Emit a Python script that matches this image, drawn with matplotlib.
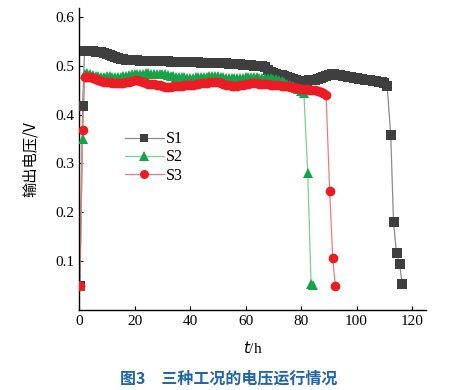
import numpy as np
import matplotlib

matplotlib.use("Agg")
from matplotlib import pyplot as plt

# ---- data ----
s1_head_t = [0.3, 1.3]
s1_head_v = [0.050, 0.418]
s1_dense_v = [
    0.530, 0.530, 0.529, 0.529, 0.528, 0.528, 0.527, 0.526, 0.524,
    0.522, 0.520, 0.518, 0.516, 0.514, 0.513, 0.512, 0.512, 0.511, 0.511,
    0.511, 0.510, 0.510, 0.510, 0.510, 0.510, 0.509, 0.509, 0.509, 0.509,
    0.509, 0.509, 0.508, 0.508, 0.508, 0.508, 0.508, 0.508, 0.507, 0.507,
    0.507, 0.507, 0.507, 0.506, 0.506, 0.506, 0.506, 0.506, 0.505, 0.505,
    0.505, 0.505, 0.505, 0.504, 0.504, 0.504, 0.503, 0.503, 0.502, 0.502,
    0.501, 0.501, 0.500, 0.500, 0.500, 0.499, 0.497, 0.492, 0.487, 0.485,
    0.483, 0.481, 0.480, 0.478, 0.476, 0.474, 0.472, 0.470, 0.469, 0.469,
    0.469, 0.469, 0.470, 0.470, 0.471, 0.472, 0.474, 0.477, 0.479, 0.481,
    0.482, 0.482, 0.481, 0.480, 0.479, 0.478, 0.477, 0.476, 0.475, 0.474,
    0.473, 0.472, 0.471, 0.471, 0.470, 0.469, 0.468, 0.467, 0.466, 0.464, 0.459,
]
s1_tail_t = [112.3, 113.3, 114.4, 115.5, 116.4]
s1_tail_v = [0.358, 0.180, 0.116, 0.094, 0.053]

s2_head_t = [0.3, 1.3]
s2_head_v = [0.050, 0.349]
s2_dense_v = [
    0.483, 0.484, 0.483, 0.481, 0.479, 0.478, 0.477, 0.477, 0.478,
    0.478, 0.477, 0.476, 0.477, 0.477, 0.478, 0.479, 0.481, 0.482, 0.483,
    0.483, 0.483, 0.483, 0.484, 0.484, 0.483, 0.483, 0.483, 0.483, 0.482,
    0.482, 0.481, 0.479, 0.478, 0.477, 0.477, 0.476, 0.476, 0.475, 0.475,
    0.475, 0.476, 0.476, 0.477, 0.477, 0.477, 0.478, 0.479, 0.479, 0.478,
    0.477, 0.476, 0.475, 0.475, 0.475, 0.474, 0.474, 0.474, 0.475, 0.476,
    0.476, 0.476, 0.476, 0.476, 0.475, 0.475, 0.475, 0.474, 0.474, 0.473,
    0.472, 0.470, 0.468, 0.466, 0.463, 0.461, 0.458, 0.455, 0.452, 0.449, 0.444,
]
s2_tail_t = [82.4, 83.6, 84.3]
s2_tail_v = [0.280, 0.054, 0.052]

s3_head_t = [0.3, 1.3]
s3_head_v = [0.050, 0.369]
s3_dense_v = [
    0.477, 0.477, 0.476, 0.474, 0.472, 0.470, 0.468, 0.467, 0.466,
    0.466, 0.465, 0.465, 0.464, 0.464, 0.465, 0.466, 0.467, 0.469, 0.471,
    0.470, 0.468, 0.466, 0.464, 0.463, 0.463, 0.462, 0.461, 0.460, 0.458,
    0.457, 0.457, 0.457, 0.458, 0.458, 0.459, 0.459, 0.460, 0.460, 0.461,
    0.461, 0.462, 0.463, 0.464, 0.465, 0.465, 0.466, 0.466, 0.466, 0.466,
    0.465, 0.463, 0.461, 0.460, 0.459, 0.459, 0.459, 0.460, 0.461, 0.462,
    0.463, 0.464, 0.464, 0.464, 0.463, 0.463, 0.462, 0.462, 0.461, 0.461,
    0.460, 0.460, 0.459, 0.459, 0.458, 0.457, 0.456, 0.455, 0.454, 0.453,
    0.452, 0.452, 0.451, 0.451, 0.450, 0.449, 0.447, 0.444, 0.440,
]
s3_tail_t = [90.3, 91.4, 92.3]
s3_tail_v = [0.244, 0.107, 0.050]

x_ticks = [0, 20, 40, 60, 80, 100, 120]
y_ticks = [0.1, 0.2, 0.3, 0.4, 0.5, 0.6]


def _series(head_t, head_v, dense_v, tail_t, tail_v):
    # hourly sampling from t = 2 h for the dense part of the run
    dense_t = list(np.arange(2, 2 + len(dense_v)))
    return head_t + dense_t + tail_t, head_v + dense_v + tail_v


series = [
    ("S1", _series(s1_head_t, s1_head_v, s1_dense_v, s1_tail_t, s1_tail_v), "#3f3f3f", "#8a8a8a", "s", 6.5),
    ("S2", _series(s2_head_t, s2_head_v, s2_dense_v, s2_tail_t, s2_tail_v), "#17a34a", "#7fcf8f", "^", 7.0),
    ("S3", _series(s3_head_t, s3_head_v, s3_dense_v, s3_tail_t, s3_tail_v), "#ec1c24", "#f07a7e", "o", 7.0),
]

plt.rcParams["font.family"] = ["Liberation Serif", "Noto Sans CJK SC", "DejaVu Sans"]

fig = plt.figure(figsize=(4.58, 3.90), dpi=100)
ax = fig.add_axes([79 / 458, 80 / 390, 347 / 458, 302 / 390])

for name, (ts, vs), mcolor, lcolor, marker, ms in series:
    ax.plot(ts, vs, color=lcolor, linewidth=0.9, zorder=2)
    ax.plot(ts, vs, linestyle="none", marker=marker, markersize=ms,
            color=mcolor, markeredgewidth=0, zorder=3)
    # legend proxy: light line with dark marker
    ax.plot([], [], color=lcolor, linewidth=0.9, marker=marker, markersize=ms - 0.5,
            markerfacecolor=mcolor, markeredgewidth=0, label=name)

ax.set_xlim(0, 125)
ax.set_ylim(0, 0.618)
ax.set_xticks(x_ticks)
ax.set_yticks(y_ticks)
ax.set_yticklabels([f"{v:.1f}" for v in y_ticks])
ax.tick_params(direction="in", length=3, labelsize=11, width=0.8)
ax.spines["top"].set_visible(False)
ax.spines["right"].set_visible(False)
for side in ("left", "bottom"):
    ax.spines[side].set_linewidth(1.0)

ax.set_xlabel("$\\mathit{t}$/h", fontsize=11, labelpad=9)
ax.set_ylabel("输出电压/V", fontsize=11, family=["Noto Sans CJK SC", "DejaVu Sans"], labelpad=12)

ax.legend(loc="center left", bbox_to_anchor=(0.115, 0.505), frameon=False,
          fontsize=11.5, handlelength=2.4, handletextpad=0.15, labelspacing=0.15,
          borderaxespad=0)

fig.text(0.5, 3 / 390, "图3　三种工况的电压运行情况", ha="center", va="bottom",
         fontsize=11.5, fontweight="bold", color="#2064ae",
         family=["Noto Sans CJK SC", "DejaVu Sans"])

fig.savefig("out.png", dpi=100)
